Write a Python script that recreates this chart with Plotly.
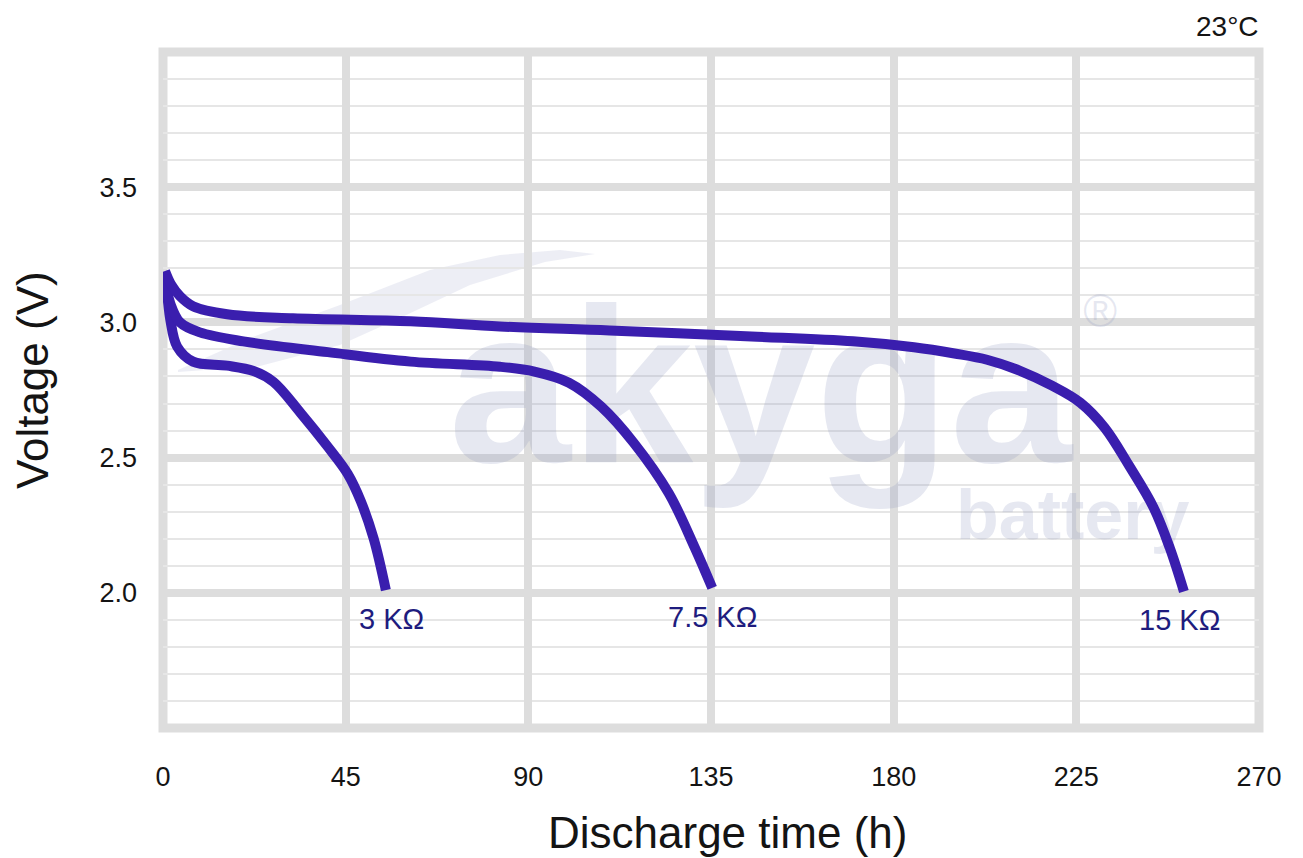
import plotly.graph_objects as go

# ---- data ----
T_3K = [0.3, 1.2, 1.8, 3.5, 7.4, 15.8, 22.3, 27.2, 33.9, 40.6, 45.5, 48.7, 51.9, 54.9]
V_3K = [3.17, 3.08, 3.01, 2.91, 2.855, 2.84, 2.82, 2.78, 2.665, 2.54, 2.44, 2.34, 2.20, 2.01]

T_7K5 = [0.4, 1.0, 1.8, 4.2, 9.1, 19.8, 40.6, 61, 83, 91.5, 100, 108, 116, 124.6, 131, 135.3]
V_7K5 = [3.18, 3.12, 3.07, 3.0, 2.963, 2.93, 2.89, 2.855, 2.836, 2.818, 2.777, 2.688, 2.554, 2.368, 2.167, 2.018]

T_15K = [0.5, 2.0, 4.2, 7.4, 15.8, 32, 61, 83, 110, 145, 170, 185, 195, 203, 211, 219, 226, 232, 238, 244, 248, 251.5]
V_15K = [3.19, 3.14, 3.097, 3.06, 3.03, 3.015, 3.004, 2.985, 2.97, 2.948, 2.93, 2.908, 2.885, 2.862, 2.822, 2.766, 2.703, 2.610, 2.470, 2.316, 2.167, 2.005]

SERIES_NAMES = ["3 KΩ", "7.5 KΩ", "15 KΩ"]
X_TICKS = [0, 45, 90, 135, 180, 225, 270]
Y_TICKS = [2.0, 2.5, 3.0, 3.5]
Y_TICK_TEXT = ["2.0", "2.5", "3.0", "3.5"]
X_RANGE = [0, 270]
Y_RANGE = [1.5, 4.0]
TEMP_LABEL = "23°C"
X_TITLE = "Discharge time (h)"
Y_TITLE = "Voltage (V)"

LINE_COLOR = "#3a1eae"
LABEL_COLOR = "#1e1c7e"
GRID_MAJOR = "#dddddd"
GRID_MINOR = "#e6e6e6"
TEXT_COLOR = "#141414"
FONT = "Liberation Sans, Arial, sans-serif"
WM_COLOR = "rgba(140,148,190,0.22)"
WM_FILL = "rgba(140,148,190,0.16)"

def frac_x(f):
    return X_RANGE[0] + f * (X_RANGE[1] - X_RANGE[0])

def frac_y(f):
    return Y_RANGE[0] + f * (Y_RANGE[1] - Y_RANGE[0])

fig = go.Figure()

# watermark (drawn first so it sits below the curves)
fig.add_trace(go.Scatter(
    x=[frac_x(0.545)], y=[frac_y(0.475)], mode="text", text=["akyga"],
    textfont=dict(family=FONT, size=220, color=WM_COLOR, weight="bold"),
    hoverinfo="skip", showlegend=False, cliponaxis=False))
fig.add_trace(go.Scatter(
    x=[frac_x(0.83)], y=[frac_y(0.305)], mode="text", text=["battery"],
    textfont=dict(family=FONT, size=70, color=WM_COLOR, weight="bold"),
    hoverinfo="skip", showlegend=False, cliponaxis=False))
fig.add_trace(go.Scatter(
    x=[frac_x(0.855)], y=[frac_y(0.61)], mode="text", text=["®"],
    textfont=dict(family=FONT, size=46, color=WM_COLOR),
    hoverinfo="skip", showlegend=False, cliponaxis=False))

series = [(T_3K, V_3K, SERIES_NAMES[0]),
          (T_7K5, V_7K5, SERIES_NAMES[1]),
          (T_15K, V_15K, SERIES_NAMES[2])]

for t, v, name in series:
    fig.add_trace(go.Scatter(
        x=t, y=v, mode="lines", name=name,
        line=dict(color=LINE_COLOR, width=10, shape="spline", smoothing=1.0),
        showlegend=False, cliponaxis=False))

label_shift = {SERIES_NAMES[0]: 6, SERIES_NAMES[1]: 0, SERIES_NAMES[2]: -4}
annotations = []
for t, v, name in series:
    annotations.append(dict(
        x=t[-1], y=v[-1], xref="x", yref="y", text=name, showarrow=False,
        xanchor="center", yanchor="middle", yshift=-29, xshift=label_shift[name],
        font=dict(family=FONT, size=29, color=LABEL_COLOR)))

annotations.append(dict(
    x=1, y=1, xref="paper", yref="paper", text=TEMP_LABEL, showarrow=False,
    xanchor="right", yanchor="bottom", yshift=8, xshift=2,
    font=dict(family=FONT, size=28, color=TEXT_COLOR)))

# axis titles
annotations.append(dict(
    x=0.5146, y=-0.154, xref="paper", yref="paper", text=X_TITLE, showarrow=False,
    xanchor="center", yanchor="middle",
    font=dict(family=FONT, size=44, color=TEXT_COLOR)))
annotations.append(dict(
    x=-0.1186, y=0.5148, xref="paper", yref="paper", text=Y_TITLE, showarrow=False,
    xanchor="center", yanchor="middle", textangle=-90,
    font=dict(family=FONT, size=44, color=TEXT_COLOR)))

swoosh = ("M 0.0137 0.5296 L 0.0794 0.5769 L 0.1615 0.6257 L 0.2436 0.6775 "
          "L 0.3075 0.6997 L 0.3622 0.7071 L 0.3942 0.7012 L 0.3485 0.6893 "
          "L 0.2801 0.6553 L 0.2162 0.6065 L 0.1615 0.5666 L 0.0885 0.5355 "
          "L 0.0137 0.5266 Z")

fig.update_layout(
    width=1303, height=858,
    margin=dict(l=163, r=44, t=52, b=130, pad=0),
    paper_bgcolor="white", plot_bgcolor="white",
    font=dict(family=FONT, color=TEXT_COLOR),
    annotations=annotations,
    shapes=[
        dict(type="rect", xref="paper", yref="paper", x0=0, x1=1, y0=0, y1=1,
             line=dict(color=GRID_MAJOR, width=9), layer="below"),
        dict(type="path", xref="paper", yref="paper", path=swoosh,
             fillcolor=WM_FILL, line=dict(width=0), layer="between"),
    ],
    showlegend=False,
)

fig.update_xaxes(
    range=X_RANGE, tickmode="array", tickvals=X_TICKS,
    ticktext=[str(v) for v in X_TICKS],
    showgrid=True, gridcolor=GRID_MAJOR, gridwidth=8,
    zeroline=False, showline=False, ticks="",
    ticklabelstandoff=30,
    tickfont=dict(family=FONT, size=27, color=TEXT_COLOR),
)
fig.update_yaxes(
    range=Y_RANGE, tickmode="array", tickvals=Y_TICKS, ticktext=Y_TICK_TEXT,
    showgrid=True, gridcolor=GRID_MAJOR, gridwidth=8,
    minor=dict(tickmode="linear", tick0=Y_RANGE[0], dtick=0.1, showgrid=True,
               gridcolor=GRID_MINOR, gridwidth=2),
    zeroline=False, showline=False, ticks="",
    ticklabelstandoff=25,
    tickfont=dict(family=FONT, size=27, color=TEXT_COLOR),
)

fig.write_html("out.html", config={"displayModeBar": False},
               post_script="document.body.style.margin='0';")
